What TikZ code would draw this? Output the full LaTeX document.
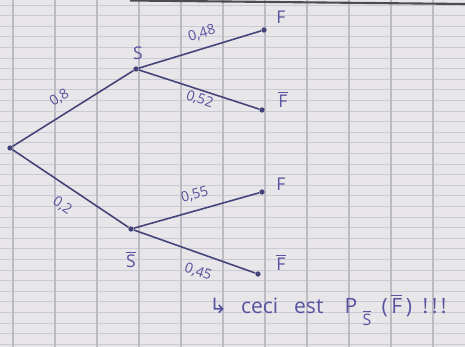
\documentclass[tikz,border=0pt]{standalone}
\usepackage{fontspec}
\setmainfont{Open Sans}
\newfontfamily\arrowfont{DejaVu Sans}
\usetikzlibrary{positioning}

\definecolor{paper}{HTML}{E8E6E8}
\definecolor{rule}{HTML}{CBCAD4}
\definecolor{ink}{HTML}{44447A}
\definecolor{pen}{HTML}{5853A0}

\begin{document}
\begin{tikzpicture}[x=0.02cm, y=-0.02cm,
    dot/.style={circle, fill=ink, inner sep=0pt, minimum size=3pt},
    branch/.style={draw=ink, line width=0.9pt},
    evt/.style={text=pen, font=\normalsize},
    prob/.style={text=pen, font=\footnotesize, sloped, inner sep=1pt},
    note/.style={text=pen, font=\large, anchor=west, inner sep=0pt}
]

% ---- Squared paper ----
\fill[paper] (0,0) rectangle (465,347);
\useasboundingbox (0,0) rectangle (465,347);
\foreach \y in {5,15.6,...,347}
    \draw[rule, line width=0.4pt] (0,\y) -- (465,\y);
\foreach \x in {13,55,...,465}
    \draw[rule!80!gray, line width=0.6pt] (\x,0) -- (\x,347);
\draw[gray!60!black, line width=1.2pt] (130,0.5) -- (465,4);

% ---- Tree nodes ----
\node[dot] (root) at (10,148)  {};
\node[dot] (s)    at (136,69)  {};
\node[dot] (sb)   at (131,229) {};
\node[dot] (sf)   at (264,30)  {};
\node[dot] (sfb)  at (262,110) {};
\node[dot] (sbf)  at (262,192) {};
\node[dot] (sbfb) at (258,274) {};

% ---- First level ----
\draw[branch] (root) -- node[prob, above=4.5pt, pos=0.46] {0,8} (s);
\draw[branch] (root) -- node[prob, below=6pt, pos=0.52] {0,2} (sb);

% ---- Second level ----
\draw[branch] (s)  -- node[prob, above=3.5pt, pos=0.55] {0,48} (sf);
\draw[branch] (s)  -- node[prob, below=0.5pt, pos=0.53] {0,52} (sfb);
\draw[branch] (sb) -- node[prob, above=4pt, pos=0.52]   {0,55} (sbf);
\draw[branch] (sb) -- node[prob, below=5.5pt, pos=0.58] {0,45} (sbfb);

% ---- Event labels ----
\node[evt] (lbl_s)    at (138,53)  {S};
\node[evt] (lbl_sb)   at (131,259) {$\overline{\mbox{S}}$};
\node[evt] (lbl_sf)   at (281,17)  {F};
\node[evt] (lbl_sfb)  at (283,99)  {$\overline{\mbox{F}}$};
\node[evt] (lbl_sbf)  at (281,184) {F};
\node[evt] (lbl_sbfb) at (281,262) {$\overline{\mbox{F}}$};

% ---- Remark under the last branch ----
\node[note] (remark) at (209,310)
    {{\arrowfont ↳}\hspace{8pt}ceci\hspace{9pt}est\hspace{12pt}P\hspace{3pt}\raisebox{-7pt}{\small$\overline{\mbox{S}}$}\hspace{6pt}(\,$\overline{\mbox{F}}$\,)\hspace{6pt}!\hspace{2pt}!\hspace{2pt}!};

\end{tikzpicture}
\end{document}
